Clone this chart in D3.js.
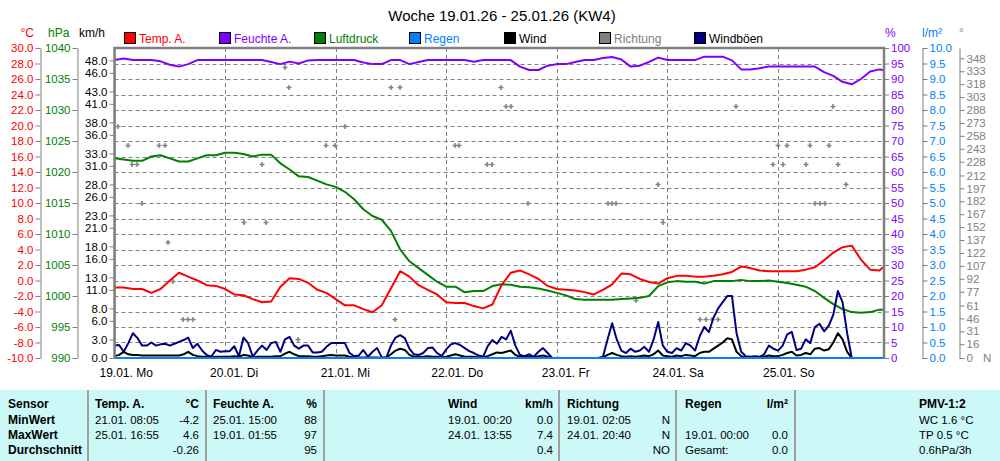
<!DOCTYPE html>
<html>
<head>
<meta charset="utf-8">
<script src="https://cdn.jsdelivr.net/npm/d3@7"></script>
<style>
body{margin:0;background:#fff;}
svg{display:block;font-family:"Liberation Sans",Arial,sans-serif;}
</style>
</head>
<body>
<svg id="chart" width="1000" height="461"></svg>
<script>
/*
 * Wochenwerte 19.01.26 - 25.01.26
 */

//-------------------------------
//Data (hours since 19.01. 00:00)

var hours2 = d3.range(0, 167, 2).concat([167]); // 2h sampling
var hours1 = d3.range(0, 161, 1);               // 1h sampling, wind

var tempA = [
  -0.9,-0.9,-1.1,-1.1,-1.6,-1.1, 0.0, 1.0, 0.5, 0.0,-0.6,-0.7,
  -1.1,-1.8,-1.9,-2.4,-2.8,-2.7,-0.8, 0.3, 0.2,-0.3,-1.2,-1.6,
  -2.4,-3.2,-3.2,-3.7,-4.1,-3.2,-1.0, 1.2, 0.5,-0.6,-1.2,-1.8,
  -2.8,-2.9,-2.9,-3.3,-3.6,-3.1,-0.6, 1.0, 1.3, 0.8, 0.2,-0.7,
  -1.1,-1.2,-1.3,-1.5,-1.8,-1.2,-0.5, 0.9, 0.8, 0.2,-0.2,-0.4,
   0.3, 0.6, 0.6, 0.5, 0.5, 0.6, 0.8, 1.1, 1.8, 1.6, 1.3, 1.2,
   1.2, 1.2, 1.2, 1.4, 1.7, 2.6, 3.6, 4.3, 4.5, 2.7, 1.4, 1.3, 1.8
];

var feuchteA = [
  96.1,96.6,96.1,96.1,96.1,95.7,94.6,94.0,94.8,96.1,96.1,96.1,
  96.1,96.1,96.1,96.1,96.1,95.5,94.8,95.6,95.0,96.0,96.1,96.1,
  96.1,96.1,96.1,95.3,94.8,94.8,96.1,96.1,94.8,95.5,96.1,96.1,
  96.1,96.1,96.1,95.6,96.1,96.1,96.1,96.1,94.0,92.9,92.9,94.3,
  94.8,94.8,95.5,96.1,96.1,96.8,97.1,96.3,94.0,94.3,95.5,96.9,
  96.1,96.1,96.1,96.1,97.2,97.2,97.2,96.0,93.1,93.1,93.5,94.0,
  94.0,94.0,94.0,94.0,94.0,92.2,91.0,89.1,88.3,90.0,92.4,93.1,92.9
];

var luftdruck = [
  1022.2,1022.0,1021.8,1021.8,1022.5,1022.7,1022.2,1021.7,1021.7,1022.2,1022.7,1022.7,
  1023.1,1023.1,1022.9,1022.5,1022.8,1022.8,1021.4,1020.4,1019.3,1019.2,1018.6,1018.0,
  1017.6,1016.8,1015.6,1014.0,1012.9,1012.3,1010.5,1007.5,1005.6,1004.5,1003.4,1002.3,
  1001.5,1001.5,1000.6,1000.8,1000.8,1001.6,1001.9,1001.8,1001.5,1001.4,1001.2,1000.9,
  1000.5,1000.1, 999.5, 999.4, 999.4, 999.4, 999.4, 999.5, 999.6, 999.7,1000.0,1001.6,
  1002.2,1002.4,1002.3,1002.3,1002.0,1002.4,1002.4,1002.4,1002.6,1002.4,1002.4,1002.5,
  1002.3,1002.1,1001.8,1001.5,1000.8, 999.7, 998.7, 997.9, 997.4, 997.3, 997.4, 997.8, 997.8
];

var windboeen = [
  2.0,2.1,1.0,2.4,4.0,3.2,2.0,2.0,2.5,2.0,
  2.2,2.3,2.0,2.3,2.6,2.9,3.3,1.6,2.3,1.2,
  0.5,0.2,1.3,1.0,1.1,1.1,1.9,0.3,3.3,2.4,
  0.2,1.2,2.0,1.3,2.4,2.6,1.0,3.0,3.4,2.0,
  1.5,2.0,2.0,0.9,0.9,1.0,1.8,2.4,2.4,2.4,
  2.4,0.8,0.3,0.4,1.3,0.2,1.0,1.6,0.1,0.1,
  2.0,3.3,3.7,3.2,1.5,0.6,0.5,0.8,1.6,1.7,
  0.8,0.3,1.4,2.2,2.4,2.1,1.6,1.1,0.8,0.4,
  0.2,1.9,2.9,2.3,3.4,3.0,4.4,2.0,0.5,0.3,
  0.6,0.2,1.0,1.6,0.8,0.0,0.0,0.0,0.0,0.0,
  0.0,0.0,0.0,0.0,0.0,0.0,0.2,3.0,5.6,3.0,
  1.2,0.8,1.5,1.0,1.2,1.8,1.0,3.0,5.8,2.0,
  1.0,0.8,1.6,1.2,2.4,2.0,1.2,3.5,5.0,4.2,
  6.5,8.0,9.0,10.0,10.0,4.0,1.0,0.3,0.2,0.3,
  0.2,0.6,2.0,1.5,1.2,2.0,3.8,4.2,1.3,1.5,
  3.0,2.4,5.0,5.5,4.3,5.2,7.0,10.8,9.0,4.0,
  0.0
];

var wind = [
  0.3,0.5,1.0,0.6,0.5,0.5,0.4,0.4,0.4,0.4,
  0.4,0.4,0.4,0.4,0.4,0.6,1.0,0.5,0.3,0.2,
  0.2,0.1,0.2,0.2,0.2,0.2,0.3,0.2,0.5,0.4,
  0.1,0.2,0.2,0.2,0.2,0.3,0.3,0.7,1.0,0.6,
  0.3,0.3,0.3,0.2,0.2,0.3,0.4,0.5,0.4,0.4,
  0.4,0.2,0.1,0.1,0.1,0.1,0.1,0.1,0.0,0.1,
  0.6,1.2,1.5,1.3,0.5,0.2,0.2,0.2,0.3,0.2,
  0.2,0.1,0.2,0.4,0.6,0.4,0.2,0.2,0.2,0.1,
  0.1,0.3,0.6,0.9,0.8,1.0,1.2,0.5,0.2,0.2,
  0.2,0.1,0.3,0.4,0.2,0.0,0.0,0.0,0.0,0.0,
  0.0,0.0,0.0,0.0,0.0,0.0,0.1,0.5,0.8,0.5,
  0.3,0.2,0.3,0.2,0.3,0.4,0.3,0.6,1.2,0.4,
  0.3,0.2,0.4,0.3,0.5,0.4,0.3,0.8,1.0,1.0,
  1.5,2.0,2.5,3.2,3.0,1.0,0.3,0.1,0.1,0.1,
  0.1,0.2,0.4,0.3,0.3,0.5,0.8,1.0,0.4,0.5,
  0.8,0.6,1.5,1.6,1.2,1.4,2.5,4.0,3.0,1.0,
  0.0
];

var regenHours = [0, 167];
var regen = [0.0, 0.0];

// wind direction samples (degrees)
var richtungHours = [0.85,3.0,3.75,4.85,5.9,9.75,11.0,11.7,12.8,14.95,16.05,17.1,
  28.0,32.0,32.8,37.0,37.9,39.8,45.9,47.9,50.0,60.0,60.9,62.0,73.8,74.85,80.8,81.9,
  83.8,84.9,86.0,89.75,107.1,108.0,108.85,113.2,118.0,119.05,127.1,128.4,129.7,131.0,
  134.8,142.9,143.9,145.0,145.9,150.0,150.95,152.0,153.1,154.2,155.1,155.9,157.0,158.8];
var richtung = [270,247.5,225,225,180,247.5,247.5,135,90,45,45,45,
  157.5,225,157.5,337.5,315,22.5,247.5,247.5,270,315,45,315,247.5,247.5,225,225,
  315,292.5,292.5,180,180,180,180,67.5,202.5,157.5,45,45,45,45,
  292.5,225,247.5,225,247.5,225,247.5,180,180,180,247.5,292.5,225,202.5];

// axes
var tempTicks = [-10,-8,-6,-4,-2,0,2,4,6,8,10,12,14,16,18,20,22,24,26,28,30];
var hpaTicks = [990,995,1000,1005,1010,1015,1020,1025,1030,1035,1040];
var kmhTicks = [0,3,6,8,11,13,16,18,21,23,26,28,31,33,36,38,41,43,46,48];
var humTicks = [0,5,10,15,20,25,30,35,40,45,50,55,60,65,70,75,80,85,90,95,100];
var rainTicks = [0,0.5,1,1.5,2,2.5,3,3.5,4,4.5,5,5.5,6,6.5,7,7.5,8,8.5,9,9.5,10];
var dirTicks = [0,16,31,46,61,77,92,107,122,137,152,167,182,197,212,228,243,258,273,288,303,318,333,348];
var dayLabels = ["19.01. Mo","20.01. Di","21.01. Mi","22.01. Do","23.01. Fr","24.01. Sa","25.01. So"];

var legendNames = ["Temp. A.","Feuchte A.","Luftdruck","Regen","Wind","Richtung","Windböen"];
var legendColors = ["#ff0000","#8000ff","#008000","#0080ff","#000000","#808080","#000080"];
var legendText = ["#ff0000","#8000ff","#008000","#0080ff","#000000","#808080","#000000"];

// summary table
var tblSensor  = ["Sensor","MinWert","MaxWert","Durchschnitt"];
var tblTemp    = [["Temp. A.","°C"],["21.01. 08:05","-4.2"],["25.01. 16:55","4.6"],["","-0.26"]];
var tblFeuchte = [["Feuchte A.","%"],["25.01. 15:00","88"],["19.01. 01:55","97"],["","95"]];
var tblWind    = [["Wind","km/h"],["19.01. 00:20","0.0"],["24.01. 13:55","7.4"],["","0.4"]];
var tblRicht   = [["Richtung",""],["19.01. 02:05","N"],["24.01. 20:40","N"],["","NO"]];
var tblRegen   = [["Regen","l/m²"],["",""],["19.01. 00:00","0.0"],["Gesamt:","0.0"]];
var tblPmv     = ["PMV-1:2","WC 1.6 °C","TP 0.5 °C","0.6hPa/3h"];

//-------------------------------
//Layout

var svg = d3.select("#chart");
var plotL = 114.5, plotR = 884, plotT = 48, plotB = 358;
var gray = "#808080";

var t0 = new Date(2026, 0, 19, 0, 0);
function at(h) { return d3.timeMinute.offset(t0, Math.round(h * 60)); }

var x = d3.scaleTime().domain([t0, at(167)]).range([plotL, plotR]);
var yTemp = d3.scaleLinear().domain([-10, 30]).range([plotB, plotT]);
var yHpa  = d3.scaleLinear().domain([990, 1040]).range([plotB, plotT]);
var yKmh  = d3.scaleLinear().domain([0, 50]).range([plotB, plotT]);
var yHum  = d3.scaleLinear().domain([0, 100]).range([plotB, plotT]);
var yRain = d3.scaleLinear().domain([0, 10]).range([plotB, plotT]);
var yDir  = d3.scaleLinear().domain([0, 360]).range([plotB, plotT]);

svg.append("rect").attr("width", 1000).attr("height", 461).attr("fill", "#fff");

// title
svg.append("text")
  .attr("x", 502).attr("y", 21)
  .attr("text-anchor", "middle")
  .style("font-size", "15px")
  .text("Woche 19.01.26 - 25.01.26 (KW4)");

// legend
var legend = svg.append("g").selectAll("g")
  .data(legendNames)
  .enter().append("g")
  .attr("transform", function(d, i) { return "translate(" + (124 + i * 95) + ",32)"; });
legend.append("rect")
  .attr("x", 0.5).attr("y", 0.5).attr("width", 11).attr("height", 11)
  .attr("fill", function(d, i) { return legendColors[i]; })
  .attr("stroke", "#000");
legend.append("text")
  .attr("x", 15).attr("y", 10.5)
  .style("font-size", "12px")
  .attr("fill", function(d, i) { return legendText[i]; })
  .text(function(d) { return d; });

// unit labels
var units = [
  {t: "°C", x: 34, c: "#ff0000", a: "end"},
  {t: "hPa", x: 48, c: "#008000", a: "start"},
  {t: "km/h", x: 79, c: "#000", a: "start"},
  {t: "%", x: 885, c: "#8000ff", a: "start"},
  {t: "l/m²", x: 922, c: "#0080ff", a: "start"},
  {t: "°", x: 959, c: gray, a: "start"}
];
svg.append("g").selectAll("text").data(units).enter().append("text")
  .attr("x", function(d) { return d.x; }).attr("y", 37)
  .attr("text-anchor", function(d) { return d.a; })
  .attr("fill", function(d) { return d.c; })
  .style("font-size", "12px")
  .text(function(d) { return d.t; });

//-------------------------------
//Grid

var grid = svg.append("g").attr("stroke", gray).attr("stroke-dasharray", "4,3");
grid.selectAll("line.h")
  .data(humTicks.slice(1, -1))
  .enter().append("line")
  .attr("x1", plotL).attr("x2", plotR)
  .attr("y1", function(d) { return Math.round(yHum(d)) + 0.5; })
  .attr("y2", function(d) { return Math.round(yHum(d)) + 0.5; });
grid.selectAll("line.v")
  .data(dayLabels.slice(1))
  .enter().append("line")
  .attr("x1", function(d, i) { return Math.round(x(at((i + 1) * 24))) + 0.5; })
  .attr("x2", function(d, i) { return Math.round(x(at((i + 1) * 24))) + 0.5; })
  .attr("y1", plotT).attr("y2", plotB);

// day labels
svg.append("g").selectAll("text")
  .data(dayLabels)
  .enter().append("text")
  .attr("x", function(d, i) { return x(at(i * 24)) - 15; })
  .attr("y", 377)
  .style("font-size", "12px")
  .text(function(d) { return d; });

//-------------------------------
//Axes

function fmt1(d) { return d.toFixed(1); }
function styleAxis(g, color) {
  g.selectAll("path.domain, line").attr("stroke", gray);
  g.selectAll("text").attr("fill", color).style("font-size", "11.5px")
    .style("font-family", "Liberation Sans, Arial, sans-serif");
}

svg.append("g").attr("transform", "translate(40.5,0)")
  .call(d3.axisLeft(yTemp).tickValues(tempTicks).tickFormat(fmt1).tickSize(5).tickSizeOuter(0).tickPadding(2))
  .call(styleAxis, "#ff0000");
svg.append("g").attr("transform", "translate(77.5,0)")
  .call(d3.axisLeft(yHpa).tickValues(hpaTicks).tickFormat(d3.format("d")).tickSize(5).tickSizeOuter(0).tickPadding(2))
  .call(styleAxis, "#008000");
svg.append("g").attr("transform", "translate(" + plotL + ",0)")
  .call(d3.axisLeft(yKmh).tickValues(kmhTicks).tickFormat(fmt1).tickSize(5).tickSizeOuter(0).tickPadding(2))
  .call(styleAxis, "#000");
svg.append("g").attr("transform", "translate(" + plotR + ",0)")
  .call(d3.axisRight(yHum).tickValues(humTicks).tickFormat(d3.format("d")).tickSize(5).tickSizeOuter(0).tickPadding(2))
  .call(styleAxis, "#8000ff");
svg.append("g").attr("transform", "translate(922.5,0)")
  .call(d3.axisRight(yRain).tickValues(rainTicks).tickFormat(fmt1).tickSize(5).tickSizeOuter(0).tickPadding(2))
  .call(styleAxis, "#0080ff");
svg.append("g").attr("transform", "translate(959.5,0)")
  .call(d3.axisRight(yDir).tickValues(dirTicks).tickFormat(d3.format("d")).tickSize(5).tickSizeOuter(0).tickPadding(2))
  .call(styleAxis, gray);
svg.append("text").attr("x", 983).attr("y", 362).attr("fill", gray)
  .style("font-size", "11.5px").text("N");

//-------------------------------
//Series

var plot = svg.append("g");

// direction markers
plot.selectAll("path.dir")
  .data(richtung)
  .enter().append("path")
  .attr("transform", function(d, i) {
    return "translate(" + Math.round(x(at(richtungHours[i]))) + "," + Math.round(yDir(d)) + ")";
  })
  .attr("d", "M-2.5,0.5H2.5M0,-2V3")
  .attr("stroke", gray).attr("stroke-width", 1.5);

function drawLine(hours, values, yScale, color) {
  var line = d3.line()
    .x(function(d, i) { return x(at(hours[i])); })
    .y(function(d) { return yScale(d); });
  plot.append("path")
    .datum(values)
    .attr("d", line)
    .attr("fill", "none")
    .attr("stroke", color)
    .attr("stroke-width", 2)
    .attr("stroke-linejoin", "round");
}

drawLine(hours2, feuchteA, yHum, "#8000ff");
drawLine(hours2, luftdruck, yHpa, "#008000");
drawLine(hours2, tempA, yTemp, "#ff0000");
drawLine(hours1, windboeen, yKmh, "#000080");
drawLine(hours1, wind, yKmh, "#000000");
drawLine(regenHours, regen, yRain, "#0080ff");

// frame
svg.append("path")
  .attr("d", "M" + plotL + "," + plotB + "V" + plotT + "H" + plotR + "V" + plotB)
  .attr("fill", "none").attr("stroke", gray).attr("stroke-width", 2.5);

//-------------------------------
//Summary table

var tbl = svg.append("g");
tbl.append("rect").attr("x", 0).attr("y", 390).attr("width", 1000).attr("height", 71).attr("fill", "#ccf8f8");
tbl.selectAll("line")
  .data([88, 206, 324, 559, 676, 795])
  .enter().append("line")
  .attr("x1", function(d) { return d; }).attr("x2", function(d) { return d; })
  .attr("y1", 390).attr("y2", 461)
  .attr("stroke", "#a0a0a0").attr("stroke-width", 2);

var rowY = [408, 424, 439, 454];
function cell(tx, ty, txt, bold, anchor) {
  tbl.append("text")
    .attr("x", tx).attr("y", ty)
    .attr("text-anchor", anchor || "start")
    .style("font-size", bold ? "12px" : "11.5px")
    .style("font-weight", bold ? "bold" : "normal")
    .text(txt);
}
tblSensor.forEach(function(d, i) { cell(8, rowY[i], d, true); });
[[tblTemp, 95, 199], [tblFeuchte, 213, 317], [tblWind, 448, 553], [tblRicht, 567, 670], [tblRegen, 685, 788]]
  .forEach(function(c) {
    c[0].forEach(function(r, i) {
      cell(c[1], rowY[i], r[0], i === 0);
      cell(c[2], rowY[i], r[1], i === 0, "end");
    });
  });
tblPmv.forEach(function(d, i) { cell(919, rowY[i], d, i === 0); });
</script>
</body>
</html>
